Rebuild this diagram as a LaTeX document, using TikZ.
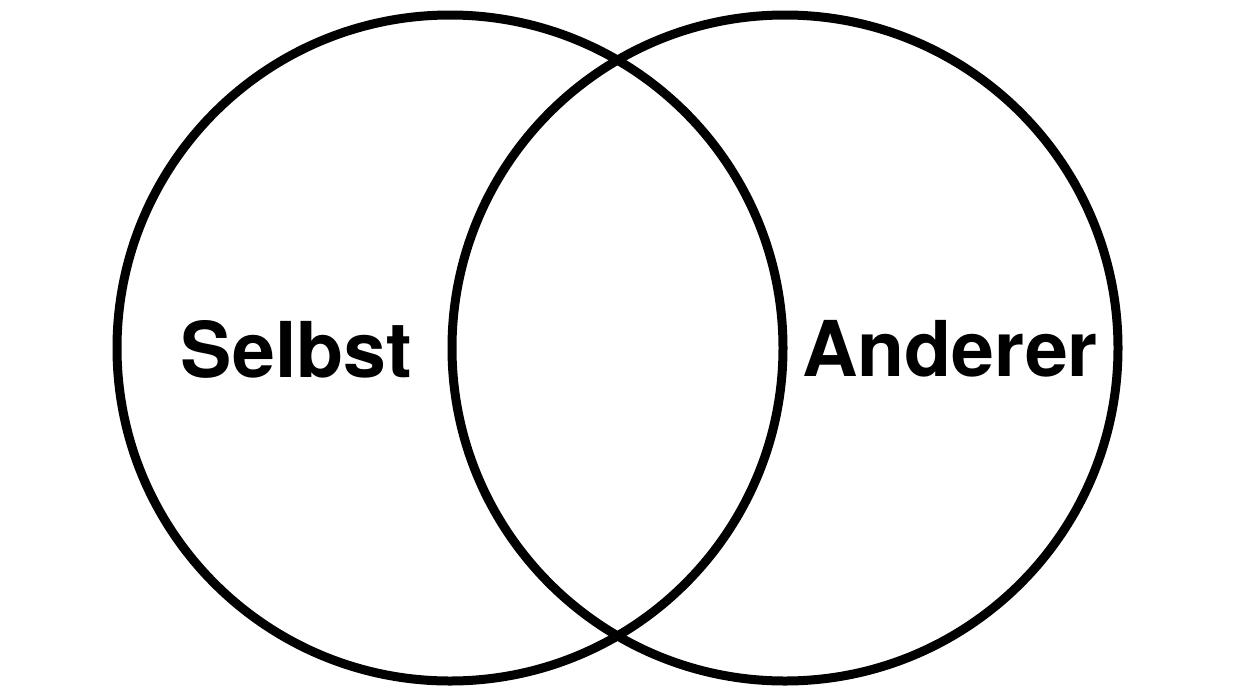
\documentclass[tikz,border=0pt]{standalone}
\usepackage{fontspec}
\setmainfont{TeX Gyre Heros}
\begin{document}
\begin{tikzpicture}[x=1pt,y=-1pt,
  ring/.style={draw=black,line width=9pt,circle,minimum size=666pt,inner sep=0pt},
  lbl/.style={font=\bfseries\fontsize{77}{80}\selectfont,inner sep=0pt,anchor=base}]
\useasboundingbox[fill=white] (0,0) rectangle (1239,697);
\node[ring] (self) at (450,348) {};
\node[ring] (other) at (785,348) {};
\node[lbl] (selbst) at (296.5,377) {Selbst};
\node[lbl] (anderer) at (950,376) {Anderer};
\end{tikzpicture}
\end{document}
